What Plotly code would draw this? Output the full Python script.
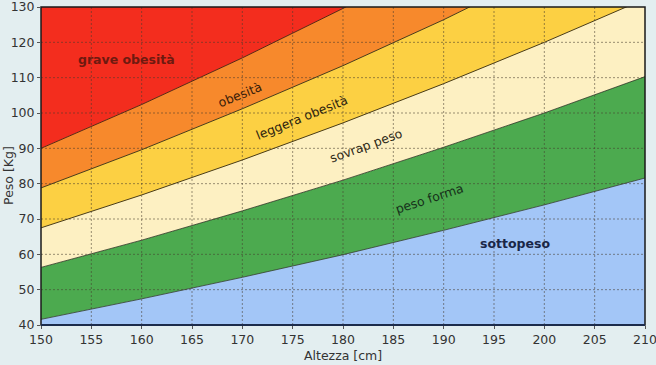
import plotly.graph_objects as go

# --- data ---
heights = [150, 160, 170, 180, 190, 200, 210]           # cm
bmi_18_5 = [41.6, 47.4, 53.5, 59.9, 66.8, 74.0, 81.6]   # kg (sottopeso / peso forma)
bmi_25 = [56.3, 64.0, 72.3, 81.0, 90.3, 100.0, 110.3]   # kg (peso forma / sovrap peso)
bmi_30 = [67.5, 76.8, 86.7, 97.2, 108.3, 120.0, 132.3]  # kg (sovrap peso / leggera obesità)
bmi_35 = [78.8, 89.6, 101.2, 113.4, 126.4, 140.0, 154.4]  # kg (leggera obesità / obesità)
bmi_40 = [90.0, 102.4, 115.6, 129.6, 144.4, 160.0, 176.4]  # kg (obesità / grave obesità)

x_ticks = [150, 155, 160, 165, 170, 175, 180, 185, 190, 195, 200, 205, 210]
y_ticks = [40, 50, 60, 70, 80, 90, 100, 110, 120, 130]

band_names = ["sottopeso", "peso forma", "sovrap peso", "leggera obesità", "obesità", "grave obesità"]
band_colors = ["#a3c6f7", "#4caa4f", "#fdf0c2", "#fcd043", "#f7892c", "#f32d1e"]

y_min, y_max = y_ticks[0], y_ticks[-1]
x_min, x_max = x_ticks[0], x_ticks[-1]

fig = go.Figure()

# baseline at the bottom of the axis
fig.add_trace(go.Scatter(x=heights, y=[y_min] * len(heights), mode="lines",
                         line=dict(width=0), showlegend=False, hoverinfo="skip"))

boundaries = [bmi_18_5, bmi_25, bmi_30, bmi_35, bmi_40, [y_max + 60] * len(heights)]
line_cols = ["rgba(50,60,50,0.8)", "rgba(40,50,30,0.8)", "#4a3c16", "#4a3c16", "#5a2a10", "rgba(0,0,0,0)"]
for i, (b, col) in enumerate(zip(boundaries, band_colors)):
    fig.add_trace(go.Scatter(
        x=heights, y=b, mode="lines", fill="tonexty", fillcolor=col,
        line=dict(color=line_cols[i], width=1 if i < 5 else 0),
        name=band_names[i], showlegend=False, hoverinfo="skip"))

# grid lines drawn above the filled bands
grid_col = "rgba(70,60,45,0.55)"
shapes = []
for xv in x_ticks[1:-1]:
    shapes.append(dict(type="line", xref="x", yref="paper", x0=xv, x1=xv, y0=0, y1=1,
                       line=dict(color=grid_col, width=1, dash="2px,2px"), layer="above"))
for yv in y_ticks[1:-1]:
    shapes.append(dict(type="line", xref="paper", yref="y", x0=0, x1=1, y0=yv, y1=yv,
                       line=dict(color=grid_col, width=1, dash="2px,2px"), layer="above"))
# frame
shapes.append(dict(type="rect", xref="paper", yref="paper", x0=0, x1=1, y0=0, y1=1,
                   line=dict(color="#1a1a1a", width=1.5), layer="above"))
shapes.append(dict(type="line", xref="paper", yref="paper", x0=0, x1=1, y0=0, y1=0,
                   line=dict(color="#1c2c4c", width=2), layer="above"))

# band labels
labels = [
    dict(text="<b>grave obesità</b>", x=158.5, y=115.2, angle=0, color="#6e1a10", size=12.5),
    dict(text="obesità", x=169.8, y=105.2, angle=-22, color="#3a1e0a", size=12.5),
    dict(text="leggera obesità", x=175.9, y=98.8, angle=-22, color="#2e2410", size=12.5),
    dict(text="sovrap peso", x=182.3, y=90.8, angle=-20, color="#2e2a18", size=12.5),
    dict(text="peso forma", x=188.6, y=75.9, angle=-18, color="#16301a", size=12.5),
    dict(text="<b>sottopeso</b>", x=197.1, y=63.2, angle=0, color="#1a2748", size=12.5),
]
annotations = [dict(text=l["text"], x=l["x"], y=l["y"], xref="x", yref="y", showarrow=False,
                    textangle=l["angle"], font=dict(family="DejaVu Sans", size=l["size"], color=l["color"]))
               for l in labels]
# axis titles
annotations.append(dict(text="Altezza [cm]", xref="paper", yref="paper", x=0.5, y=-0.097,
                        xanchor="center", yanchor="middle", showarrow=False,
                        font=dict(family="DejaVu Sans", size=12.5, color="#333333")))
annotations.append(dict(text="Peso [Kg]", xref="paper", yref="paper", x=-0.054, y=0.47,
                        xanchor="center", yanchor="middle", showarrow=False, textangle=-90,
                        font=dict(family="DejaVu Sans", size=12.5, color="#333333")))

fig.update_layout(
    width=656, height=365,
    margin=dict(l=41, r=11, t=7, b=40, autoexpand=False),
    paper_bgcolor="#e3eef0", plot_bgcolor="#e3eef0",
    font=dict(family="DejaVu Sans", size=12, color="#333333"),
    shapes=shapes, annotations=annotations,
    xaxis=dict(range=[x_min, x_max], tickvals=x_ticks, showgrid=False, zeroline=False,
               ticks="outside", ticklen=3, tickcolor="#555555", automargin=False,
               ticklabeloverflow="allow",
               tickfont=dict(size=12.5, color="#333333")),
    yaxis=dict(range=[y_min, y_max], tickvals=y_ticks, showgrid=False, zeroline=False,
               ticks="outside", ticklen=3, tickcolor="#555555", automargin=False,
               ticklabeloverflow="allow",
               tickfont=dict(size=12.5, color="#333333")),
)

fig.write_html("out.html", config={"displayModeBar": False},
               post_script="document.body.style.margin='0';document.body.style.overflow='hidden';")
